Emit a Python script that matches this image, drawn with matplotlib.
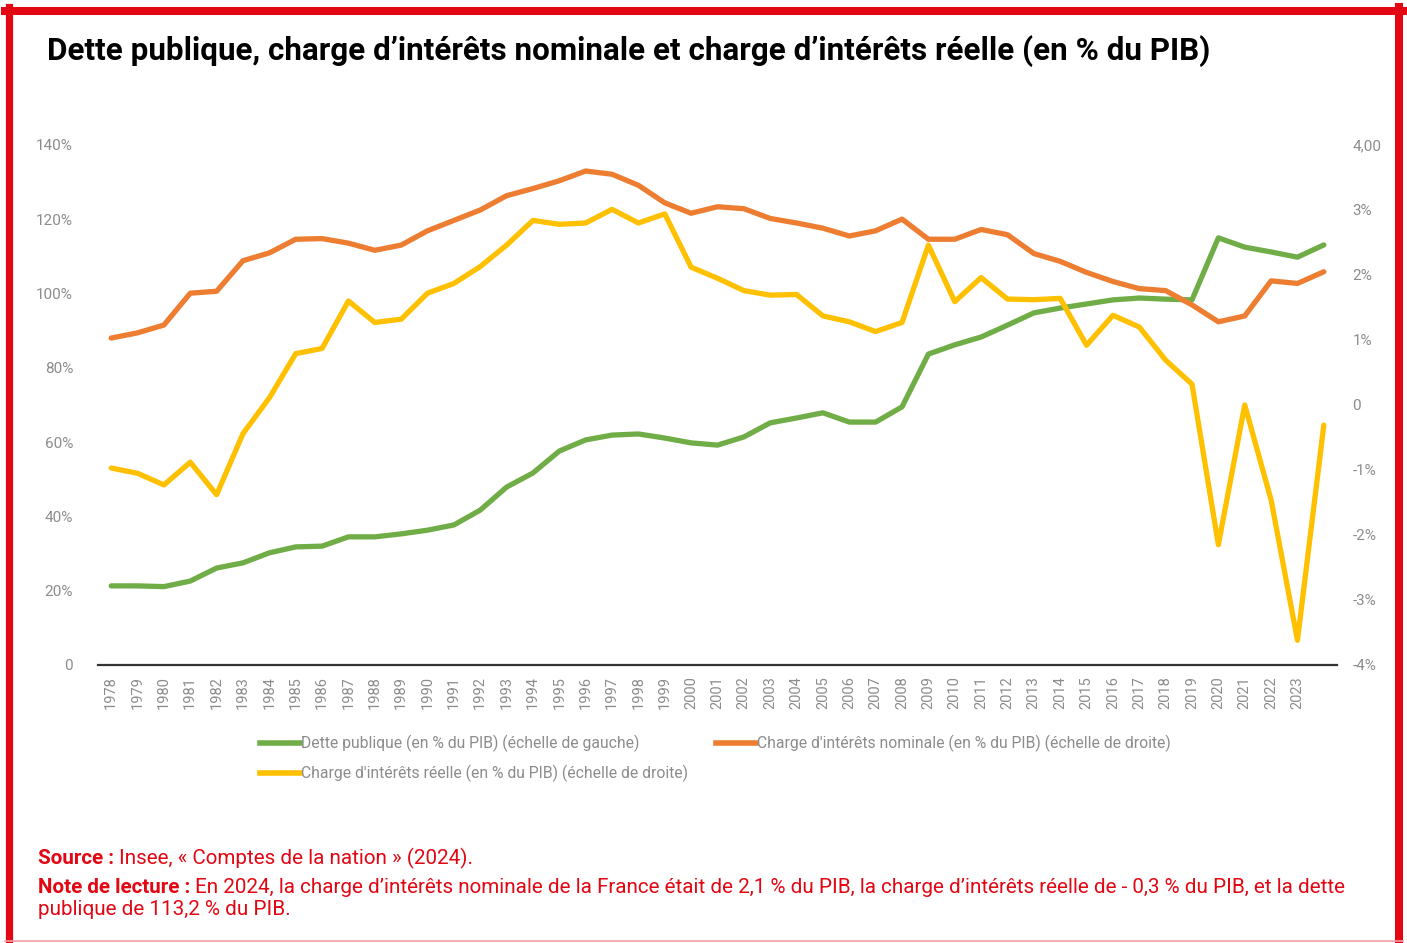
import matplotlib
matplotlib.use("Agg")
import matplotlib.pyplot as plt
from matplotlib.lines import Line2D

years = list(range(1978, 2025))
tick_labels = [str(y) for y in range(1978, 2024)]

# dette publique, % du PIB (échelle de gauche)
dette = [21.3, 21.3, 21.1, 22.6, 26.1, 27.5, 30.2, 31.8, 32.0, 34.5,
         34.5, 35.3, 36.3, 37.7, 41.7, 47.9, 51.7, 57.6, 60.6, 61.9,
         62.2, 61.1, 59.8, 59.2, 61.4, 65.2, 66.5, 67.9, 65.4, 65.4,
         69.5, 83.7, 86.2, 88.3, 91.5, 94.8, 96.1, 97.2, 98.3, 98.8,
         98.5, 98.3, 115.0, 112.5, 111.2, 109.8, 113.1]

# charge d'intérêts nominale, % du PIB (échelle de droite)
nominale = [1.03, 1.11, 1.23, 1.72, 1.75, 2.22, 2.34, 2.55, 2.56, 2.49,
            2.38, 2.46, 2.68, 2.84, 3.00, 3.22, 3.33, 3.45, 3.60, 3.55,
            3.38, 3.11, 2.95, 3.05, 3.02, 2.87, 2.80, 2.72, 2.60, 2.68,
            2.86, 2.55, 2.55, 2.70, 2.62, 2.33, 2.21, 2.04, 1.90, 1.79,
            1.76, 1.54, 1.28, 1.37, 1.91, 1.87, 2.05]

# charge d'intérêts réelle, % du PIB (échelle de droite)
reelle = [-0.97, -1.05, -1.23, -0.88, -1.38, -0.44, 0.11, 0.79, 0.87, 1.60,
          1.27, 1.32, 1.72, 1.87, 2.13, 2.46, 2.84, 2.78, 2.80, 3.01,
          2.80, 2.94, 2.12, 1.95, 1.76, 1.69, 1.70, 1.37, 1.28, 1.13,
          1.27, 2.46, 1.59, 1.96, 1.63, 1.62, 1.64, 0.92, 1.38, 1.20,
          0.69, 0.32, -2.15, 0.00, -1.46, -3.62, -0.31]

left_ticks = [0, 20, 40, 60, 80, 100, 120, 140]
left_labels = ["0", "20%", "40%", "60%", "80%", "100%", "120%", "140%"]
right_ticks = [-4, -3, -2, -1, 0, 1, 2, 3, 4]
right_labels = ["-4%", "-3%", "-2%", "-1%", "0", "1%", "2%", "3%", "4,00"]

GREEN = "#70AD47"
ORANGE = "#ED7D31"
YELLOW = "#FFC000"
RED = "#E30613"
GREY = "#8C8C8C"

W, H = 1407, 943
fig = plt.figure(figsize=(W / 100, H / 100), dpi=100)
plt.rcParams['font.family'] = ['Roboto', 'DejaVu Sans']

ax = fig.add_axes([98 / W, 1 - 665 / H, (1337 - 98) / W, (665 - 145) / H])
ax2 = ax.twinx()

x = list(range(len(years)))
ax.plot(x, dette, color=GREEN, lw=3.8, solid_joinstyle="round", solid_capstyle="round", zorder=3)
ax2.plot(x, nominale, color=ORANGE, lw=3.8, solid_joinstyle="round", solid_capstyle="round", zorder=3)
ax2.plot(x, reelle, color=YELLOW, lw=3.8, solid_joinstyle="round", solid_capstyle="round", zorder=4)

ax.set_xlim(-0.5, len(years) - 0.5)
ax.set_ylim(0, 140)
ax2.set_ylim(-4, 4)

ax.set_xticks(range(len(tick_labels)))
ax.set_xticklabels(tick_labels, rotation=90, fontsize=10.5, color=GREY)
ax.set_yticks(left_ticks)
ax.set_yticklabels(left_labels, fontsize=11, color=GREY)
ax2.set_yticks(right_ticks)
ax2.set_yticklabels(right_labels, fontsize=11, color=GREY)

for a in (ax, ax2):
    for s in ("top", "left", "right", "bottom"):
        a.spines[s].set_visible(False)
    a.tick_params(length=0)
ax.spines["bottom"].set_visible(True)
ax.spines["bottom"].set_color("#333333")
ax.spines["bottom"].set_linewidth(1.6)
ax.tick_params(axis="y", pad=18)
ax.tick_params(axis="x", pad=8)
ax2.tick_params(axis="y", pad=11)

handles = [Line2D([], [], color=GREEN, lw=4),
           Line2D([], [], color=YELLOW, lw=4),
           Line2D([], [], color=ORANGE, lw=4)]
labels = ["Dette publique (en % du PIB) (échelle de gauche)",
          "Charge d'intérêts réelle (en % du PIB) (échelle de droite)",
          "Charge d'intérêts nominale (en % du PIB) (échelle de droite)"]
leg = fig.legend(handles, labels, ncol=2, loc="upper left",
                 bbox_to_anchor=(246 / W, 1 - 721 / H), frameon=False,
                 fontsize=11.3, handlelength=2.55, handletextpad=0.05,
                 columnspacing=1.8, labelspacing=0.8)
for t in leg.get_texts():
    t.set_color(GREY)

fig.text(47 / W, 1 - 51 / H,
         "Dette publique, charge d’intérêts nominale et charge d’intérêts réelle (en % du PIB)",
         fontsize=22.6, fontweight="bold", color="black", va="center", ha="left")

# source and note, bold lead-in then regular text
renderer = fig.canvas.get_renderer()
FS = 14.9

def mixed_line(xpix, ypix, bold, rest):
    t = fig.text(xpix / W, 1 - ypix / H, bold, fontsize=FS, fontweight="bold",
                 color=RED, va="baseline", ha="left")
    bb = t.get_window_extent(renderer=renderer)
    if rest:
        fig.text((bb.x1 + 5) / W, 1 - ypix / H, rest, fontsize=FS,
                 color=RED, va="baseline", ha="left")

mixed_line(38, 864, "Source :", "Insee, « Comptes de la nation » (2024).")
mixed_line(38, 893, "Note de lecture :",
           "En 2024, la charge d’intérêts nominale de la France était de 2,1 % du PIB, "
           "la charge d’intérêts réelle de - 0,3 % du PIB, et la dette")
fig.text(38 / W, 1 - 915 / H, "publique de 113,2 % du PIB.", fontsize=FS,
         color=RED, va="baseline", ha="left")

# red frame
fig.add_artist(Line2D([8.5 / W, 8.5 / W], [0, 1 - 7 / H], color=RED, lw=5.2,
                      transform=fig.transFigure))
fig.add_artist(Line2D([1399 / W, 1399 / W], [0, 1 - 7 / H], color=RED, lw=5.8,
                      transform=fig.transFigure))
fig.add_artist(Line2D([5 / W, 1403 / W], [1 - 11 / H, 1 - 11 / H], color=RED, lw=5.8,
                      transform=fig.transFigure))
fig.add_artist(Line2D([5 / W, 1403 / W], [1 - 941 / H, 1 - 941 / H], color="#F4A0A6", lw=1.2,
                      transform=fig.transFigure))

fig.savefig("out.png", dpi=100)
